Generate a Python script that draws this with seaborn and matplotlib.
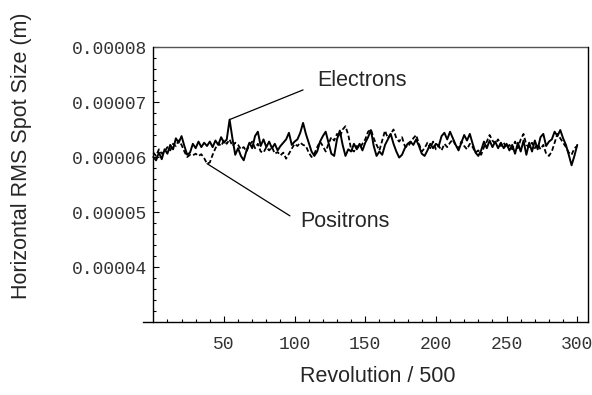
import numpy as np
import pandas as pd
import matplotlib
matplotlib.use("Agg")
import matplotlib.pyplot as plt
import seaborn as sns

# Turn number (in units of 500 revolutions), sampled every 2
revolution = np.arange(0, 301, 2)

# Horizontal RMS spot size, in micrometres
electrons_um = [
    60.0, 59.4, 60.8, 59.6, 61.4, 60.6, 62.2, 61.4, 63.4, 62.6,
    63.8, 62.0, 60.4, 60.8, 62.4, 61.6, 62.8, 61.8, 62.6, 62.0,
    62.8, 61.8, 63.0, 62.2, 63.6, 62.6, 63.2, 66.8, 63.4, 60.4,
    61.6, 60.2, 59.4, 61.2, 62.6, 61.6, 63.8, 64.6, 62.0, 63.2,
    61.8, 62.8, 61.6, 62.4, 61.2, 62.0, 62.6, 63.2, 64.4, 62.2,
    62.8, 63.2, 64.4, 66.2, 64.2, 62.6, 61.0, 60.2, 61.0, 62.8,
    63.8, 64.6, 62.6, 60.6, 60.2, 63.2, 64.8, 62.2, 60.2, 61.4,
    61.0, 62.4, 61.4, 62.4, 61.2, 62.6, 63.6, 64.9, 62.0, 60.2,
    61.0, 60.4, 62.2, 63.2, 64.2, 62.4, 61.0, 59.9, 60.4, 61.6,
    62.4, 62.8, 62.2, 63.2, 62.0, 60.6, 60.2, 61.2, 62.4, 61.6,
    62.4, 62.0, 63.8, 64.4, 63.2, 64.6, 63.4, 62.2, 61.2, 62.6,
    64.0, 63.0, 64.2, 62.4, 60.8, 60.2, 61.2, 62.8, 61.6, 63.0,
    61.8, 62.8, 61.6, 62.6, 61.6, 62.4, 61.2, 62.2, 60.6, 62.6,
    61.0, 63.0, 60.4, 62.6, 61.0, 63.0, 61.4, 63.6, 64.2, 62.0,
    62.8, 63.2, 64.6, 63.8, 64.9, 63.4, 62.2, 60.4, 58.5, 60.2,
    62.2,
]
positrons_um = [
    60.8, 60.2, 61.4, 60.6, 61.0, 61.8, 61.2, 62.4, 62.0, 63.0,
    62.2, 61.0, 60.0, 60.4, 60.3, 60.6, 60.2, 60.5, 59.8, 58.8,
    59.0, 60.4, 61.6, 62.5, 62.0, 63.0, 62.4, 63.2, 62.0, 62.6,
    62.2, 61.4, 61.8, 61.0, 62.2, 62.8, 61.6, 62.4, 61.0, 60.8,
    61.8, 61.2, 61.8, 60.6, 60.9, 60.3, 60.8, 59.7, 60.6, 61.5,
    62.4, 62.0, 62.6, 62.2, 62.0, 60.8, 60.0, 60.6, 61.8, 62.8,
    62.0, 61.0, 62.4, 63.6, 63.0, 64.2, 63.6, 65.0, 65.6, 64.0,
    61.4, 61.0, 62.0, 61.6, 62.4, 63.2, 64.6, 65.0, 63.4, 62.2,
    61.2, 63.0, 64.8, 63.4, 64.2, 65.0, 63.4, 62.8, 63.6, 62.0,
    61.8, 62.6, 63.4, 64.0, 62.4, 61.0, 61.6, 62.6, 61.6, 62.8,
    61.4, 62.0, 61.2, 62.4, 61.8, 62.6, 63.2, 62.0, 61.6, 62.8,
    62.0, 61.4, 62.4, 61.8, 60.8, 61.2, 60.4, 61.8, 62.8, 64.0,
    63.0, 62.4, 63.2, 62.0, 62.6, 61.6, 62.2, 61.4, 62.8, 61.6,
    63.2, 64.2, 62.2, 61.8, 62.6, 61.6, 62.4, 61.4, 62.2, 60.6,
    60.2, 61.0, 62.6, 64.2, 63.4, 62.6, 61.8, 60.8, 60.4, 61.6,
    62.0,
]

x_ticks = [50, 100, 150, 200, 250, 300]
y_ticks = [0.00004, 0.00005, 0.00006, 0.00007, 0.00008]
y_tick_labels = ["0.00004", "0.00005", "0.00006", "0.00007", "0.00008"]

df = pd.DataFrame({
    "rev": revolution,
    "electrons": np.array(electrons_um) * 1e-6,
    "positrons": np.array(positrons_um) * 1e-6,
})

sns.set_style("white")
plt.rcParams["font.family"] = ["Liberation Sans", "DejaVu Sans"]

fig = plt.figure(figsize=(5.92, 3.95), dpi=100)
ax = fig.add_axes([0.2422, 0.1848, 0.7510, 0.6962])

sns.lineplot(data=df, x="rev", y="electrons", ax=ax, color="black",
             linewidth=1.4, estimator=None)
sns.lineplot(data=df, x="rev", y="positrons", ax=ax, color="black",
             linewidth=1.3, estimator=None)
ax.lines[-1].set_dashes([2.6, 1.4])

x_lo, x_hi = -7, 307.6
y_lo, y_hi = 0.00003, 0.00008
ax.set_xlim(x_lo, x_hi)
ax.set_ylim(y_lo, y_hi)

# Axis frame: x axis across the whole width, y axis at zero, box on top/right
for s in ("top", "right", "bottom", "left"):
    ax.spines[s].set_color("black")
    ax.spines[s].set_linewidth(1.0)
ax.spines["left"].set_position(("data", 0))
ax.spines["top"].set_visible(False)
ax.hlines(y_hi, 0, x_hi, color="#555555", linewidth=1.0, clip_on=False)

ax.set_xticks(x_ticks)
ax.set_xticklabels([str(v) for v in x_ticks])
ax.set_xticks([v for v in range(10, 301, 10) if v % 50], minor=True)
ax.set_yticks(y_ticks)
ax.set_yticklabels(y_tick_labels)
ax.set_yticks([y_lo + k * 2e-6 for k in range(1, 25) if k % 5], minor=True)

ax.tick_params(which="both", direction="in", color="black", width=0.8,
               bottom=True, left=True, top=False, right=False)
ax.tick_params(which="major", length=4)
ax.tick_params(which="minor", length=2.5)
ax.tick_params(axis="x", which="major", pad=10)
ax.tick_params(axis="y", which="major", pad=4.5)
for lab in ax.get_xticklabels() + ax.get_yticklabels():
    lab.set_family("Liberation Mono")
    lab.set_fontsize(13)
    lab.set_color("#333333")

ax.set_xlabel("")
ax.set_ylabel("")
fig.text(377.5 / 592, 1 - 377 / 395, "Revolution / 500", ha="center",
         va="center", fontsize=15.5)
fig.text(22 / 592, 1 - 156 / 395, "Horizontal RMS Spot Size (m)",
         rotation=90, ha="center", va="center", fontsize=15.5)

# Callouts pointing at the two curves
leader = dict(arrowstyle="-", color="black", lw=0.9, shrinkA=0, shrinkB=0)
ax.annotate("", xy=(54, df["electrons"][27]), xytext=(106, 0.0000722),
            arrowprops=leader)
ax.text(115.8, 0.0000740, "Electrons", fontsize=15.5, ha="left", va="center")
ax.annotate("", xy=(38, df["positrons"][19]), xytext=(96.7, 0.0000493),
            arrowprops=leader)
ax.text(103.7, 0.0000482, "Positrons", fontsize=15.5, ha="left", va="center")

fig.savefig("out.png", dpi=100)
